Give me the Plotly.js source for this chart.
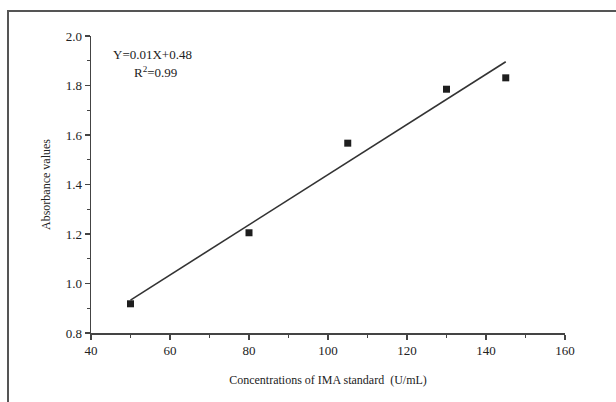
<!DOCTYPE html>
<html>
<head>
<meta charset="utf-8">
<script src="https://cdn.plot.ly/plotly-3.0.1.min.js"></script>
<style>
html,body{margin:0;padding:0;background:#fff;}
#chart{position:absolute;left:0;top:0;width:616px;height:402px;}
#frame{position:absolute;left:7px;top:10px;width:620px;height:400px;border-left:2px solid #555;border-top:2px solid #555;pointer-events:none;}
</style>
</head>
<body>
<div id="chart"></div>
<div id="frame"></div>
<script>
// Data
var concentrations = [50, 80, 105, 130, 145];
var absorbance = [0.918, 1.205, 1.567, 1.785, 1.831];
var fitX = [50, 145];
var fitY = [0.933, 1.896];
var equationText = 'Y=0.01X+0.48';
var r2Text = 'R<sup>2</sup>=0.99';
var xTitle = 'Concentrations of IMA standard  (U/mL)';
var yTitle = 'Absorbance values';

var font = {family: '"Liberation Serif", "Times New Roman", serif', color: '#222'};

var traces = [
  {x: fitX, y: fitY, mode: 'lines', line: {color: '#333', width: 1.6}, hoverinfo: 'skip'},
  {x: concentrations, y: absorbance, mode: 'markers', marker: {symbol: 'square', size: 7, color: '#1e1e1e'}}
];

var layout = {
  width: 616, height: 402,
  margin: {l: 91, r: 51, t: 36, b: 69},
  showlegend: false,
  paper_bgcolor: '#fff', plot_bgcolor: '#fff',
  font: Object.assign({size: 13}, font),
  xaxis: {
    range: [40, 160], dtick: 20, tick0: 40,
    showgrid: false, zeroline: false,
    showline: true, linecolor: '#444', linewidth: 1.5,
    ticks: 'outside', ticklen: 5, tickwidth: 1.2, tickcolor: '#444',
    minor: {dtick: 10, ticks: 'outside', ticklen: 3, tickwidth: 1, tickcolor: '#444', showgrid: false},
    tickfont: Object.assign({size: 13}, font),
    title: {text: xTitle, font: Object.assign({size: 12}, font), standoff: 18},
    automargin: false
  },
  yaxis: {
    range: [0.8, 2.0], dtick: 0.2, tick0: 0.8,
    tickformat: '.1f',
    showgrid: false, zeroline: false,
    showline: true, linecolor: '#444', linewidth: 1.5,
    ticks: 'outside', ticklen: 5, tickwidth: 1.2, tickcolor: '#444',
    minor: {dtick: 0.1, ticks: 'outside', ticklen: 3, tickwidth: 1, tickcolor: '#444', showgrid: false},
    tickfont: Object.assign({size: 13}, font),
    title: {text: yTitle, font: Object.assign({size: 12}, font), standoff: 12},
    automargin: false
  },
  annotations: [
    {xref: 'x', yref: 'y', x: 55.5, y: 1.927, text: equationText, showarrow: false,
     font: Object.assign({size: 13}, font), xanchor: 'center', yanchor: 'middle'},
    {xref: 'x', yref: 'y', x: 56.3, y: 1.855, text: r2Text, showarrow: false,
     font: Object.assign({size: 13}, font), xanchor: 'center', yanchor: 'middle'}
  ]
};

Plotly.newPlot('chart', traces, layout, {displayModeBar: false, staticPlot: true});
</script>
</body>
</html>
